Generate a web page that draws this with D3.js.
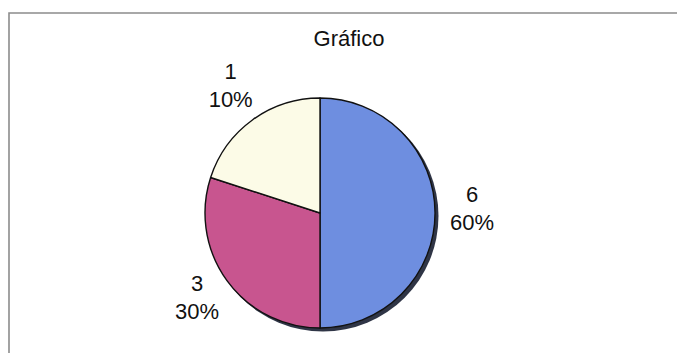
<!DOCTYPE html>
<html>
<head>
<meta charset="utf-8">
<script src="https://cdn.jsdelivr.net/npm/d3@7"></script>
<style>
  html, body { margin: 0; padding: 0; background: #fff; }
  svg { display: block; }
  text { font-family: Arial, "Liberation Sans", sans-serif; fill: #111; }
</style>
</head>
<body>
<svg id="chart" width="677" height="353"></svg>
<script>
// values shown on the labels
const categories = ['6', '3', '1'];
const percentLabels = ['60%', '30%', '10%'];
// share of the circle each slice actually covers in the picture
const drawnShare = [50, 30, 20];
const colors = ['#6e8ee0', '#c8558f', '#fcfbe7'];
const title = 'Gráfico';

const svg = d3.select('#chart');
const W = +svg.attr('width'), H = +svg.attr('height');

// outer frame (runs off the right and bottom edges)
svg.append('path')
   .attr('d', `M9,${H + 5} L9,13 L${W + 5},13`)
   .attr('fill', 'none')
   .attr('stroke', '#8c8c8c')
   .attr('stroke-width', 1.6);

svg.append('text')
   .attr('x', 349)
   .attr('y', 46)
   .attr('text-anchor', 'middle')
   .style('font-size', '22px')
   .text(title);

const cx = 320, cy = 213, R = 115;
const g = svg.append('g').attr('transform', `translate(${cx},${cy})`);

const pie = d3.pie().sort(null).value(d => d.share);
const data = pie(categories.map((c, i) => ({ cat: c, pct: percentLabels[i], share: drawnShare[i], color: colors[i] })));

const arc = d3.arc().innerRadius(0).outerRadius(R);
const labelArc = d3.arc().innerRadius(152).outerRadius(152);

// shadow
g.append('circle')
 .attr('cx', 3).attr('cy', 3).attr('r', R + 0.5)
 .attr('fill', '#2f3546');

g.selectAll('path.slice')
 .data(data)
 .join('path')
 .attr('class', 'slice')
 .attr('d', arc)
 .attr('fill', d => d.data.color)
 .attr('stroke', '#111')
 .attr('stroke-width', 1.4)
 .attr('stroke-linejoin', 'round');

const labels = g.selectAll('g.lbl')
 .data(data)
 .join('g')
 .attr('class', 'lbl')
 .attr('transform', d => { const [x, y] = labelArc.centroid(d); return `translate(${x},${y})`; });

labels.append('text')
 .attr('text-anchor', 'middle')
 .attr('y', -11)
 .style('font-size', '22px')
 .text(d => d.data.cat);

labels.append('text')
 .attr('text-anchor', 'middle')
 .attr('y', 17)
 .style('font-size', '22px')
 .text(d => d.data.pct);
</script>
</body>
</html>
